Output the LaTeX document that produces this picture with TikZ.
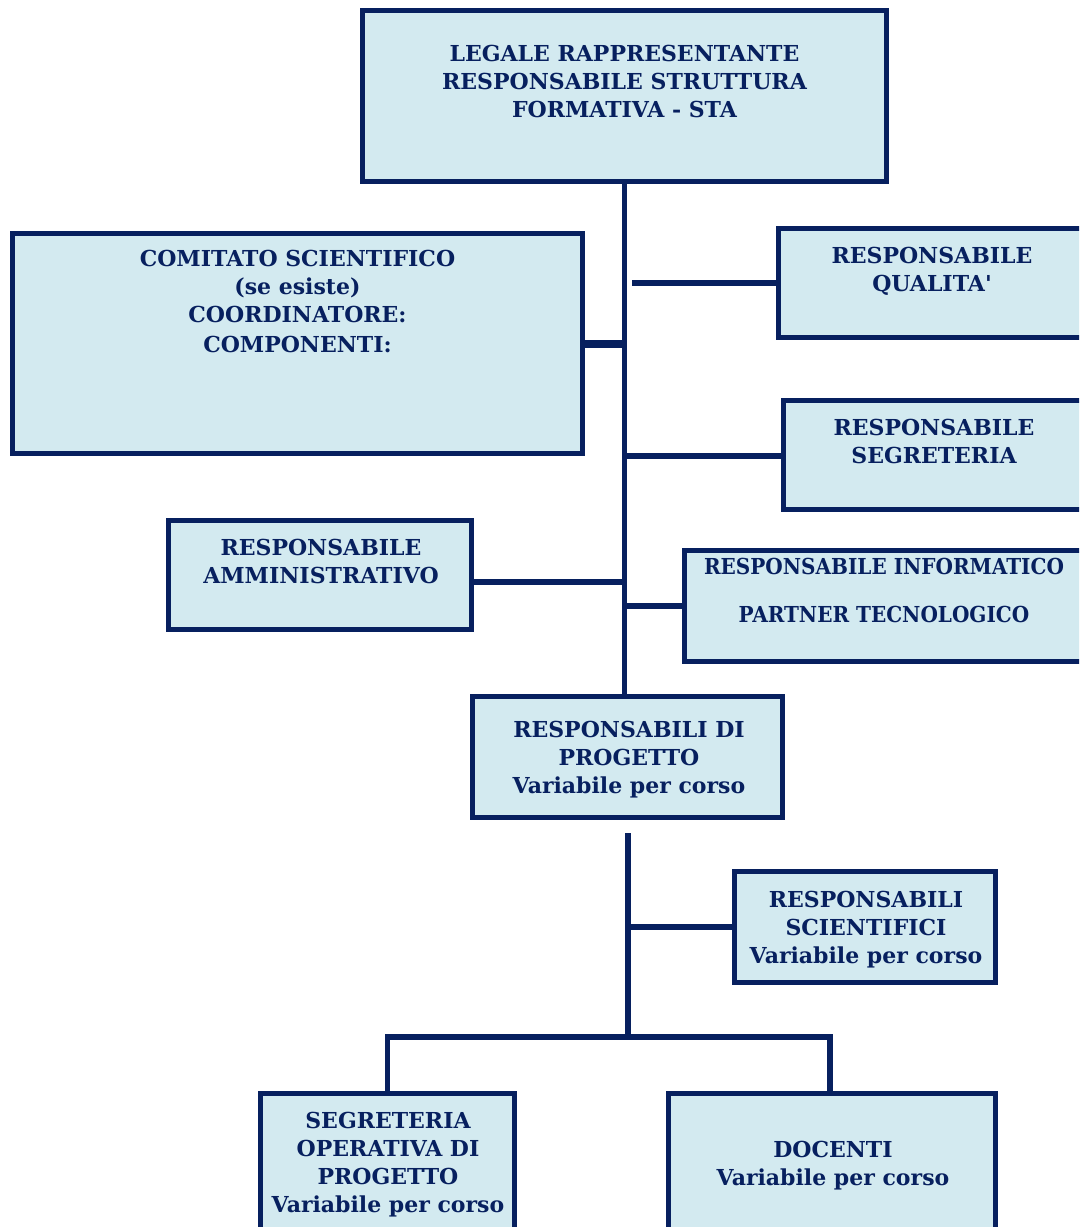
\documentclass[tikz,border=0pt]{standalone}
\usepackage{fontspec}
\setmainfont{DejaVu Serif}
\usetikzlibrary{fit}
\definecolor{navy}{HTML}{07205F}
\definecolor{lblue}{HTML}{D3EAF0}
\begin{document}
\begin{tikzpicture}[x=0.75pt,y=-0.75pt,
  box/.style={draw=navy, fill=lblue, line width=3.9pt, inner sep=0pt},
  lbl/.style={text=navy, font=\fontsize{16.5}{21}\selectfont\bfseries, align=center, inner sep=0pt, anchor=north},
  conn/.style={draw=navy, line width=4.2pt}]
\useasboundingbox (0,0) rectangle (1079,1227);
\clip (0,0) rectangle (1079,1227);

% boxes
\node[box, fit={(362.5,10.5) (886.5,181.5)}] (top) {};
\node[box, fit={(12.5,233.5) (582.5,453.5)}] (com) {};
\node[box, fit={(778.5,228.5) (1095,337.5)}] (qual) {};
\node[box, fit={(783.5,400.5) (1095,509.5)}] (segr) {};
\node[box, fit={(168.5,520.5) (471.5,629.5)}] (amm) {};
\node[box, fit={(684.5,550.5) (1095,661.5)}] (inf) {};
\node[box, fit={(472.5,696.5) (782.5,817.5)}] (prog) {};
\node[box, fit={(734.5,871.5) (995.5,982.5)}] (sci) {};
\node[box, fit={(260.5,1093.5) (514.5,1245)}] (segop) {};
\node[box, fit={(668.5,1093.5) (995.5,1245)}] (doc) {};

% texts
\node[lbl] (ttop) at (624.5,45) {LEGALE RAPPRESENTANTE\\RESPONSABILE STRUTTURA\\FORMATIVA - STA};
\node[lbl] (tcom) at (297.5,250) {COMITATO SCIENTIFICO\\(se esiste)\\COORDINATORE:\\[1.5pt]COMPONENTI:};
\node[lbl] (tqual) at (932,247) {RESPONSABILE\\QUALITA\textquotesingle};
\node[lbl] (tsegr) at (934,419) {RESPONSABILE\\SEGRETERIA};
\node[lbl] (tamm) at (321,539) {RESPONSABILE\\AMMINISTRATIVO};
\node[lbl] (tinf) at (884,558) {\scalebox{0.91}[1]{RESPONSABILE INFORMATICO}\\[15pt]\scalebox{0.91}[1]{PARTNER TECNOLOGICO}};
\node[lbl] (tprog) at (629,721) {RESPONSABILI DI\\PROGETTO\\Variabile per corso};
\node[lbl] (tsci) at (866,891) {RESPONSABILI\\SCIENTIFICI\\Variabile per corso};
\node[lbl] (tsegop) at (388,1112) {SEGRETERIA\\OPERATIVA DI\\PROGETTO\\Variabile per corso};
\node[lbl] (tdoc) at (833,1141) {DOCENTI\\Variabile per corso};

% main trunk
\draw[conn] (top.south) -- (top.south |- prog.north);
\coordinate (jq) at (632,283);
\draw[conn] (jq) -- (jq -| qual.west);
\coordinate (jc) at (624.5,344);
\draw[conn, line width=6pt] (jc) -- (jc -| com.east);
\coordinate (js) at (624.5,456);
\draw[conn] (js) -- (js -| segr.west);
\coordinate (ja) at (624.5,582);
\draw[conn] (ja) -- (ja -| amm.east);
\coordinate (ji) at (624.5,606);
\draw[conn] (ji) -- (ji -| inf.west);

% lower trunk
\coordinate (t2) at (628,833);
\coordinate (bm) at (628,1037);
\coordinate (br) at (830,1037);
\draw[conn] (t2) -- (bm);
\coordinate (jsc) at (628,927);
\draw[conn] (jsc) -- (jsc -| sci.west);
\draw[conn] (segop.north) |- (br) -- (br |- doc.north);
\end{tikzpicture}
\end{document}
